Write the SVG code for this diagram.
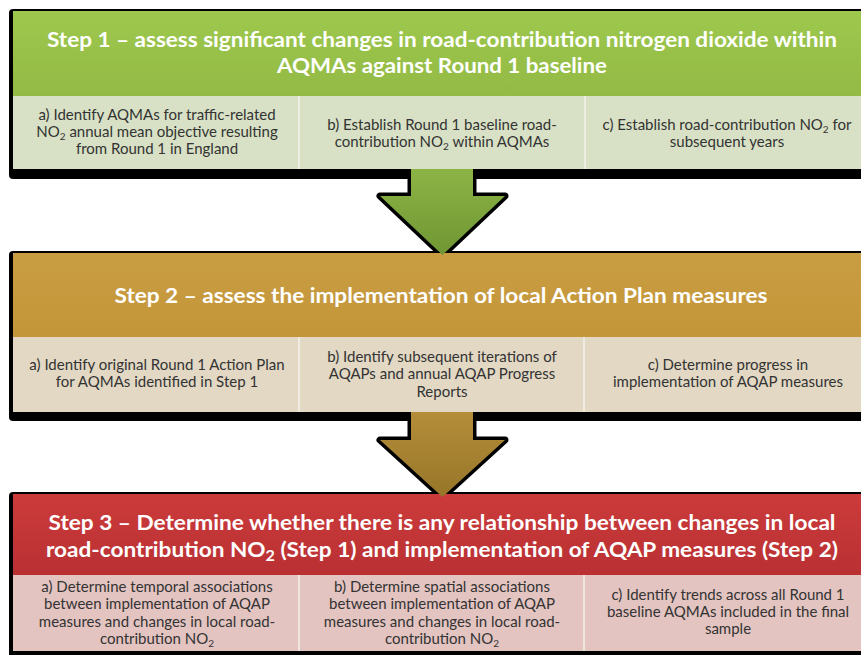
<svg xmlns="http://www.w3.org/2000/svg" width="861" height="655" viewBox="0 0 861 655">
<style>
.title{font-family:Lato,"Liberation Sans",sans-serif;font-weight:bold;font-size:21px;fill:#ffffff;text-anchor:middle}
.sub{font-family:Lato,"Liberation Sans",sans-serif;font-size:15px;fill:#333333;text-anchor:middle}
.sep{stroke:#f4f2ea;stroke-width:1.5}
.shadow{fill:#000000}
.ao{fill:#000;stroke:#000;stroke-width:7;stroke-linejoin:round}
</style>
<defs>
<linearGradient id="h1" x1="0" y1="0" x2="0" y2="1"><stop offset="0" stop-color="#9dc84d"/><stop offset="1" stop-color="#93ba45"/></linearGradient>
<linearGradient id="h2" x1="0" y1="0" x2="0" y2="1"><stop offset="0" stop-color="#c99d42"/><stop offset="1" stop-color="#c4963a"/></linearGradient>
<linearGradient id="h3" x1="0" y1="0" x2="0" y2="1"><stop offset="0" stop-color="#cc3b3b"/><stop offset="1" stop-color="#b93033"/></linearGradient>
<linearGradient id="a1" x1="0" y1="0" x2="0" y2="1"><stop offset="0" stop-color="#8cb445"/><stop offset="1" stop-color="#6f9633"/></linearGradient>
<linearGradient id="a2" x1="0" y1="0" x2="0" y2="1"><stop offset="0" stop-color="#b48d39"/><stop offset="1" stop-color="#977629"/></linearGradient>
</defs>
<rect width="861" height="655" fill="#ffffff"/>
<g id="arrow-outlines">
<polygon class="ao" points="411,150 473,150 473,196 505,196 442.5,255 380,196 411,196"/>
<polygon class="ao" points="411,400 473,400 473,440 505,440 442.5,497 380,440 411,440"/>
</g>
<g id="step1">
<rect class="shadow" x="9" y="9" width="872" height="170" rx="4"/>
<rect x="13" y="11" width="870" height="85" fill="url(#h1)"/>
<rect x="13" y="96" width="870" height="73" fill="#d8e1c5"/>
<line class="sep" x1="299" y1="96" x2="299" y2="169"/>
<line class="sep" x1="585" y1="96" x2="585" y2="169"/>
<text class="title" x="442" y="47" textLength="790" lengthAdjust="spacingAndGlyphs">Step 1 – assess significant changes in road-contribution nitrogen dioxide within</text>
<text class="title" x="442" y="73" textLength="330" lengthAdjust="spacingAndGlyphs">AQMAs against Round 1 baseline</text>
<text class="sub" x="157" y="120">a) Identify AQMAs for traffic-related</text>
<text class="sub" x="157" y="137">NO<tspan font-size="10" dy="3">2</tspan><tspan dy="-3"> annual mean objective resulting</tspan></text>
<text class="sub" x="157" y="154">from Round 1 in England</text>
<text class="sub" x="442" y="130">b) Establish Round 1 baseline  road-</text>
<text class="sub" x="442" y="147">contribution NO<tspan font-size="10" dy="3">2</tspan><tspan dy="-3"> within AQMAs</tspan></text>
<text class="sub" x="727" y="130">c) Establish road-contribution NO<tspan font-size="10" dy="3">2</tspan><tspan dy="-3"> for</tspan></text>
<text class="sub" x="727" y="147">subsequent years</text>
</g>
<g id="step2">
<rect class="shadow" x="9" y="251" width="872" height="170" rx="4"/>
<rect x="13" y="253" width="870" height="84" fill="url(#h2)"/>
<rect x="13" y="337" width="870" height="75" fill="#e2d8c3"/>
<line class="sep" x1="299" y1="337" x2="299" y2="412"/>
<line class="sep" x1="584" y1="337" x2="584" y2="412"/>
<text class="title" x="441" y="303" textLength="653" lengthAdjust="spacingAndGlyphs">Step 2 – assess the implementation of local Action Plan measures</text>
<text class="sub" x="157" y="370">a) Identify original Round 1 Action Plan</text>
<text class="sub" x="157" y="387">for AQMAs identified in Step 1</text>
<text class="sub" x="442" y="362">b) Identify subsequent iterations of</text>
<text class="sub" x="442" y="379">AQAPs and annual AQAP Progress</text>
<text class="sub" x="442" y="397">Reports</text>
<text class="sub" x="728" y="370">c) Determine progress in</text>
<text class="sub" x="728" y="387">implementation of AQAP measures</text>
</g>
<g id="step3">
<rect class="shadow" x="9" y="492" width="872" height="170" rx="4"/>
<rect x="13" y="494" width="870" height="81" fill="url(#h3)"/>
<rect x="13" y="575" width="870" height="76" fill="#e3c4c1"/>
<line class="sep" x1="299" y1="575" x2="299" y2="651"/>
<line class="sep" x1="584" y1="575" x2="584" y2="651"/>
<text class="title" x="442" y="530" textLength="787" lengthAdjust="spacingAndGlyphs">Step 3 – Determine whether there is any relationship between changes in local</text>
<text class="title" x="442" y="557" textLength="792" lengthAdjust="spacingAndGlyphs">road-contribution NO<tspan font-size="15" dy="4">2</tspan><tspan dy="-4"> (Step 1) and implementation of AQAP measures (Step 2)</tspan></text>
<text class="sub" x="157" y="592">a) Determine temporal associations</text>
<text class="sub" x="157" y="609">between implementation of AQAP</text>
<text class="sub" x="157" y="627">measures and changes in local road-</text>
<text class="sub" x="157" y="644">contribution NO<tspan font-size="10" dy="3">2</tspan></text>
<text class="sub" x="442" y="592">b) Determine spatial associations</text>
<text class="sub" x="442" y="609">between implementation of AQAP</text>
<text class="sub" x="442" y="627">measures and changes in local road-</text>
<text class="sub" x="442" y="644">contribution NO<tspan font-size="10" dy="3">2</tspan></text>
<text class="sub" x="728" y="600">c) Identify trends across all Round 1</text>
<text class="sub" x="728" y="617">baseline AQMAs included in the final</text>
<text class="sub" x="728" y="634">sample</text>
</g>
<g id="connectors">
<polygon fill="url(#a1)" points="411,169 473,169 473,196 505,196 442.5,255 380,196 411,196"/>
<polygon fill="url(#a2)" points="411,412 473,412 473,440 505,440 442.5,497 380,440 411,440"/>
</g>
</svg>
